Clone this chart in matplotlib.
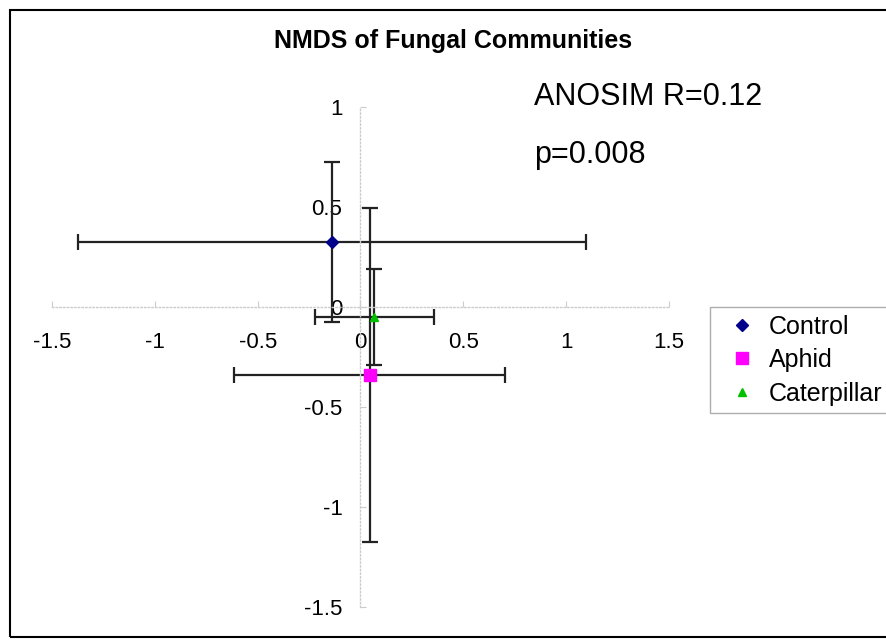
import matplotlib.pyplot as plt
from matplotlib.patches import Rectangle

plt.rcParams['font.family'] = ['Liberation Sans', 'DejaVu Sans']

# NMDS centroids with standard deviations
grupos = ['Control', 'Aphid', 'Caterpillar']
nmds1 = [-0.14, 0.044, 0.068]
nmds2 = [0.325, -0.34, -0.05]
erro_x = [1.235, 0.66, 0.29]
erro_y = [0.40, 0.835, 0.24]
cores = ['#00008B', '#FF00FF', '#00C000']
marcadores = ['D', 's', '^']
tamanhos = [6, 8, 6]

fig = plt.figure(figsize=(8.87, 6.4), dpi=100)
fig.patches.append(Rectangle((10 / 887, 3 / 640), 1.0, 627 / 640, transform=fig.transFigure,
                             fill=False, edgecolor='black', linewidth=1.5))
ax = fig.add_axes([52 / 887, 33 / 640, 617 / 887, 500 / 640])

for i, g in enumerate(grupos):
    ax.errorbar(nmds1[i], nmds2[i], xerr=erro_x[i], yerr=erro_y[i], fmt='none',
                ecolor='#222222', elinewidth=1.6, capsize=6, capthick=1.6, zorder=2)
for i, g in enumerate(grupos):
    ax.plot(nmds1[i], nmds2[i], linestyle='none', marker=marcadores[i], markersize=tamanhos[i],
            color=cores[i], label=g, zorder=3)

ax.set_xlim(-1.5, 1.5)
ax.set_ylim(-1.5, 1.0)
ax.set_xticks([-1.5, -1, -0.5, 0, 0.5, 1, 1.5])
ax.set_xticklabels(['-1.5', '-1', '-0.5', '0', '0.5', '1', '1.5'])
ax.set_yticks([-1.5, -1, -0.5, 0, 0.5, 1])
ax.set_yticklabels(['-1.5', '-1', '-0.5', '0', '0.5', '1'])

for lado in ['top', 'right']:
    ax.spines[lado].set_visible(False)
for lado in ['left', 'bottom']:
    ax.spines[lado].set_position('zero')
    ax.spines[lado].set_linestyle(':')
    ax.spines[lado].set_color('#cccccc')
    ax.spines[lado].set_linewidth(1)
ax.tick_params(axis='both', direction='in', length=4, color='#cccccc', labelsize=16)
ax.tick_params(axis='x', pad=18)
ax.tick_params(axis='y', pad=13)
ax.patch.set_alpha(0)

fig.text(453 / 887, 1 - 41 / 640, 'NMDS of Fungal Communities', fontsize=18, fontweight='bold',
         ha='center', va='center')
fig.text(534 / 887, 1 - 97 / 640, 'ANOSIM R=0.12', fontsize=22, va='center', ha='left')
fig.text(534 / 887, 1 - 155 / 640, 'p=0.008', fontsize=22, va='center', ha='left')

leg = fig.legend(loc='upper left', bbox_to_anchor=(710 / 887, 1 - 307 / 640), fontsize=18,
                 frameon=True, fancybox=False, edgecolor='#999999', handletextpad=0.05,
                 handlelength=2.0, borderpad=0.3, labelspacing=0.38, borderaxespad=0)
leg.get_frame().set_linewidth(1)

fig.savefig('out.png', dpi=100)
